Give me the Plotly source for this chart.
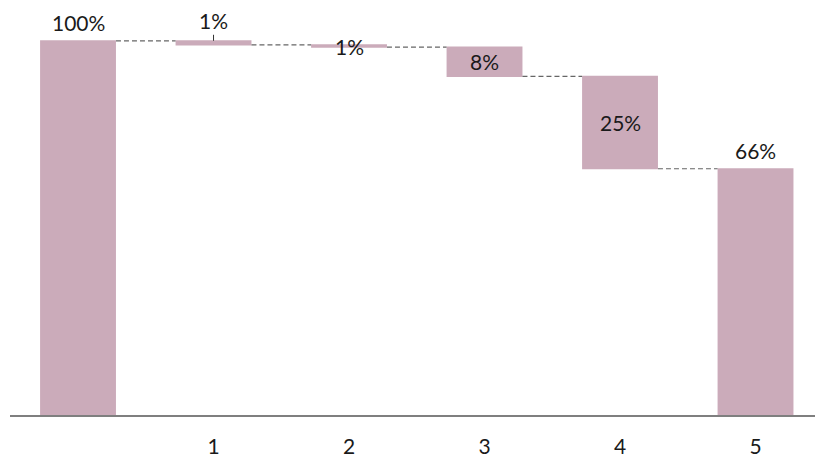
import plotly.graph_objects as go

# Waterfall data: starting total, step decreases, final total
steps = [0, 1, 2, 3, 4, 5]
tick_labels = ["", "1", "2", "3", "4", "5"]
measures = ["absolute", "relative", "relative", "relative", "relative", "total"]
values = [100, -1.1, -0.6, -7.8, -24.7, 0]

BAR = "#CBABBA"
FONT = "Lato"
TXT = "#1a1a1a"

# running levels for label placement
levels = []
running = 0.0
for m, v in zip(measures, values):
    if m == "absolute":
        lo, hi = 0.0, v
        running = v
    elif m == "relative":
        lo, hi = min(running, running + v), max(running, running + v)
        running += v
    else:
        lo, hi = 0.0, running
    levels.append((lo, hi))

shown = [abs(v) for v in values[:-1]] + [running]
labels = [f"{round(s):.0f}%" for s in shown]

fig = go.Figure(
    go.Waterfall(
        x=steps,
        y=values,
        measure=measures,
        width=0.56,
        increasing=dict(marker=dict(color=BAR)),
        decreasing=dict(marker=dict(color=BAR)),
        totals=dict(marker=dict(color=BAR)),
        connector=dict(mode="between", line=dict(color="#666666", width=1.2, dash="5px,3px")),
        textposition="none",
        hoverinfo="skip",
    )
)

# value labels: above the bar or centred on it
placement = ["above", "above_leader", "center", "center", "center", "above"]
for x, (lo, hi), lab, p in zip(steps, levels, labels, placement):
    if p == "center":
        fig.add_annotation(x=x, y=(lo + hi) / 2, text=lab, showarrow=False,
                           font=dict(family=FONT, size=21, color=TXT))
    elif p == "above_leader":
        fig.add_annotation(x=x, y=hi, text=lab, showarrow=True, arrowhead=0,
                           arrowwidth=1, arrowcolor="#333", ax=0, ay=-20,
                           font=dict(family=FONT, size=21, color=TXT))
    else:
        fig.add_annotation(x=x, y=hi, text=lab, showarrow=False, yshift=18,
                           font=dict(family=FONT, size=21, color=TXT))

fig.update_layout(
    width=815,
    height=458,
    margin=dict(l=10, r=0, t=0, b=41),
    plot_bgcolor="white",
    paper_bgcolor="white",
    showlegend=False,
    xaxis=dict(
        range=[-0.502, 5.439],
        tickvals=steps,
        ticktext=tick_labels,
        showgrid=False,
        zeroline=False,
        showline=True,
        linecolor="#7f7f7f",
        linewidth=1.5,
        ticks="",
        ticklabelstandoff=12,
        tickfont=dict(family=FONT, size=21, color=TXT),
    ),
    yaxis=dict(
        range=[0, 110.9],
        showgrid=False,
        zeroline=False,
        showticklabels=False,
        showline=False,
    ),
)

fig.write_html("out.html")
